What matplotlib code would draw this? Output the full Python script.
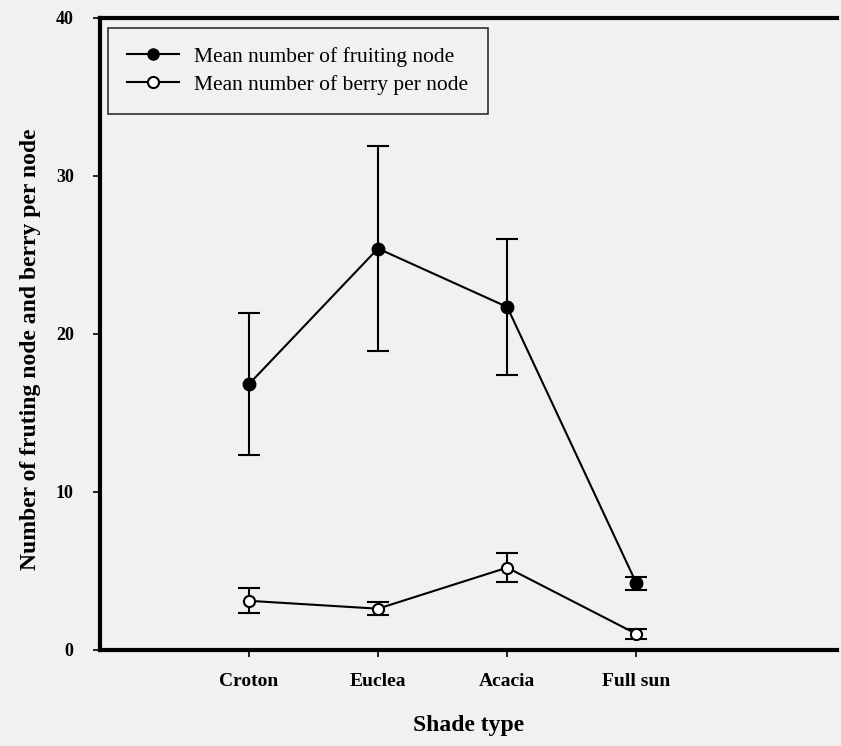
"""Fruiting node and berry counts by shade type."""
import matplotlib.pyplot as plt
from matplotlib.lines import Line2D

shade_types = ["Croton", "Euclea", "Acacia", "Full sun"]
fruiting_node = [16.8, 25.4, 21.7, 4.2]
fruiting_node_err = [4.5, 6.5, 4.3, 0.4]
berry_per_node = [3.1, 2.6, 5.2, 1.0]
berry_per_node_err = [0.8, 0.4, 0.9, 0.3]
y_ticks = [0, 10, 20, 30, 40]

plt.rcParams["font.family"] = ["Liberation Serif", "DejaVu Serif"]
bg = "#f1f1f1"

fig = plt.figure(figsize=(8.41, 7.46), dpi=100, facecolor=bg)
ax = fig.add_axes([0.119, 0.129, 0.876, 0.847], facecolor=bg)

x = list(range(len(shade_types)))
ax.errorbar(
    x, fruiting_node, yerr=fruiting_node_err,
    color="black", linewidth=1.5, elinewidth=1.5, capsize=8, capthick=1.5,
    marker="o", markersize=9, markerfacecolor="black", zorder=3,
)
ax.errorbar(
    x, berry_per_node, yerr=berry_per_node_err,
    color="black", linewidth=1.5, elinewidth=1.5, capsize=8, capthick=1.5,
    marker="o", markersize=8, markerfacecolor="white", markeredgewidth=1.5,
    zorder=4,
)

ax.set_xlim(-1.15, 4.55)
ax.set_ylim(0, 40)
ax.set_xticks(x)
ax.set_xticklabels(shade_types, fontweight="bold", fontsize=14)
ax.set_yticks(y_ticks)
ax.set_yticklabels([str(t) for t in y_ticks], fontweight="bold", fontsize=13)
ax.tick_params(axis="both", direction="out", length=5, width=1.2)
ax.tick_params(axis="y", pad=14)
ax.tick_params(axis="x", pad=12)

for side in ["left", "bottom", "top"]:
    ax.spines[side].set_linewidth(3)
ax.spines["right"].set_visible(False)

ax.set_xlabel("Shade type", fontweight="bold", fontsize=17, labelpad=18)
ax.set_ylabel("Number of fruting node and berry per node",
              fontweight="bold", fontsize=17)
ax.yaxis.set_label_coords(-0.08, 0.475)

handles = [
    Line2D([], [], color="black", linewidth=1.5, marker="o", markersize=8,
           markerfacecolor="black"),
    Line2D([], [], color="black", linewidth=1.5, marker="o", markersize=8,
           markerfacecolor="white", markeredgewidth=1.5),
]
labels = ["Mean number of fruiting node", "Mean number of berry per node"]
leg = ax.legend(handles, labels, loc="upper left", fontsize=15.5, frameon=True,
                fancybox=False, edgecolor="black", handlelength=2.4,
                borderpad=0.9, labelspacing=0.35, handletextpad=0.7,
                borderaxespad=0.3, bbox_to_anchor=(0.002, 0.995))
leg.get_frame().set_linewidth(1.2)
leg.get_frame().set_facecolor(bg)

fig.savefig("out.png", dpi=100, facecolor=fig.get_facecolor())
